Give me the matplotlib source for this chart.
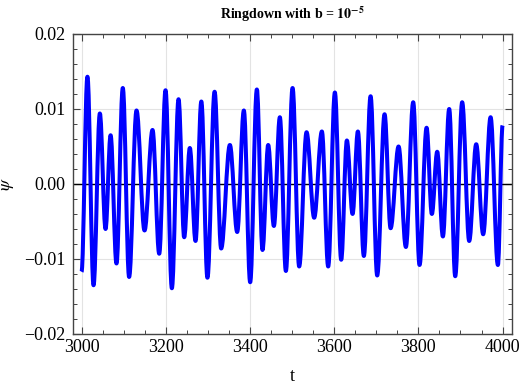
import matplotlib
matplotlib.use('Agg')
import matplotlib.pyplot as plt
from matplotlib.path import Path
from matplotlib.patches import PathPatch
from matplotlib.ticker import MultipleLocator

plt.rcParams['font.family'] = ['Liberation Serif', 'DejaVu Serif']
plt.rcParams['mathtext.fontset'] = 'stix'

# turning points of psi(t): start, alternating peaks / troughs, end
t_ext = [3000, 3014, 3028.5, 3043.5, 3057, 3069, 3083, 3098, 3113, 3130.6,
         3149.6, 3168.6, 3184.5, 3199.5, 3214.5, 3230.4, 3243.8, 3257.2, 3270.7, 3284.5,
         3299, 3316, 3331.6, 3352.3, 3369.7, 3385.5, 3400.5, 3416.4, 3429.8, 3443.3,
         3456.8, 3471, 3485.3, 3501.2, 3516.9, 3534.4, 3552.5, 3570.8, 3585.8, 3601.7,
         3616.7, 3630.2, 3643.7, 3656.3, 3670.5, 3686.5, 3702.2, 3719.7, 3734, 3753,
         3770.3, 3787.7, 3802.8, 3819.5, 3832, 3844.7, 3858.2, 3873.2, 3887.5, 3904,
         3920.7, 3937.3, 3953.9, 3971.5, 3988.8, 4000]
psi_ext = [-0.0117, 0.0143, -0.0135, 0.0094, -0.0060, 0.0065, -0.0106, 0.0128, -0.0124, 0.0098,
           -0.0062, 0.0072, -0.0093, 0.0125, -0.0139, 0.0113, -0.0071, 0.0048, -0.0076, 0.0110,
           -0.0125, 0.0123, -0.0086, 0.0052, -0.0064, 0.0098, -0.0131, 0.0126, -0.0088, 0.0052,
           -0.0056, 0.0089, -0.0116, 0.0128, -0.0110, 0.0069, -0.0045, 0.0070, -0.0110, 0.0122,
           -0.0101, 0.0058, -0.0040, 0.0070, -0.0096, 0.0117, -0.0122, 0.0093, -0.0059, 0.0050,
           -0.0084, 0.0109, -0.0108, 0.0075, -0.0040, 0.0043, -0.0070, 0.0100, -0.0123, 0.0109,
           -0.0076, 0.0053, -0.0067, 0.0089, -0.0108, 0.0078]

x_ticks = [3000, 3200, 3400, 3600, 3800, 4000]
y_ticks = [-0.02, -0.01, 0.00, 0.01, 0.02]
y_labels = ['\u22120.02', '\u22120.01', '0.00', '0.01', '0.02']

fig = plt.figure(figsize=(5.23, 3.92), dpi=100)
ax = fig.add_axes([0.139, 0.148, 0.8405, 0.7653])

# smooth curve through the turning points: cubic bezier pieces with flat tangents
k = 0.3642
verts = [(t_ext[0], psi_ext[0])]
codes = [Path.MOVETO]
for i in range(len(t_ext) - 1):
    t0, t1 = t_ext[i], t_ext[i + 1]
    v0, v1 = psi_ext[i], psi_ext[i + 1]
    dt = t1 - t0
    verts += [(t0 + k * dt, v0), (t1 - k * dt, v1), (t1, v1)]
    codes += [Path.CURVE4] * 3
ax.add_patch(PathPatch(Path(verts, codes), facecolor='none', edgecolor='#0000ff',
                       lw=2.9, joinstyle='round', zorder=3))

ax.axhline(0, color='black', lw=1.0, zorder=2)
ax.set_xlim(2979, 4023)
ax.set_ylim(-0.02, 0.02)

ax.set_xticks(x_ticks)
ax.set_yticks(y_ticks)
ax.set_yticklabels(y_labels)
ax.xaxis.set_minor_locator(MultipleLocator(50))
ax.yaxis.set_minor_locator(MultipleLocator(0.002))
ax.grid(True, which='major', color='#e3e3e3', lw=0.8, zorder=0)
ax.tick_params(which='both', direction='in', top=True, right=True,
               colors='#444444', labelcolor='black', labelsize=13)
ax.tick_params(which='major', length=5, width=0.8)
ax.tick_params(which='minor', length=3, width=0.7)
ax.tick_params(axis='x', pad=3.5)
ax.tick_params(axis='y', pad=5)
for s in ax.spines.values():
    s.set_color('#444444')
    s.set_linewidth(1.0)

ax.set_xlabel('t', fontsize=13, labelpad=9)
ax.set_ylabel(r'$\psi$', fontsize=13, labelpad=6)
ax.set_title(r'Ringdown with b = $\mathbf{10^{-5}}$', fontsize=10,
             fontweight='bold', pad=11)

fig.savefig('out.png', dpi=100)
